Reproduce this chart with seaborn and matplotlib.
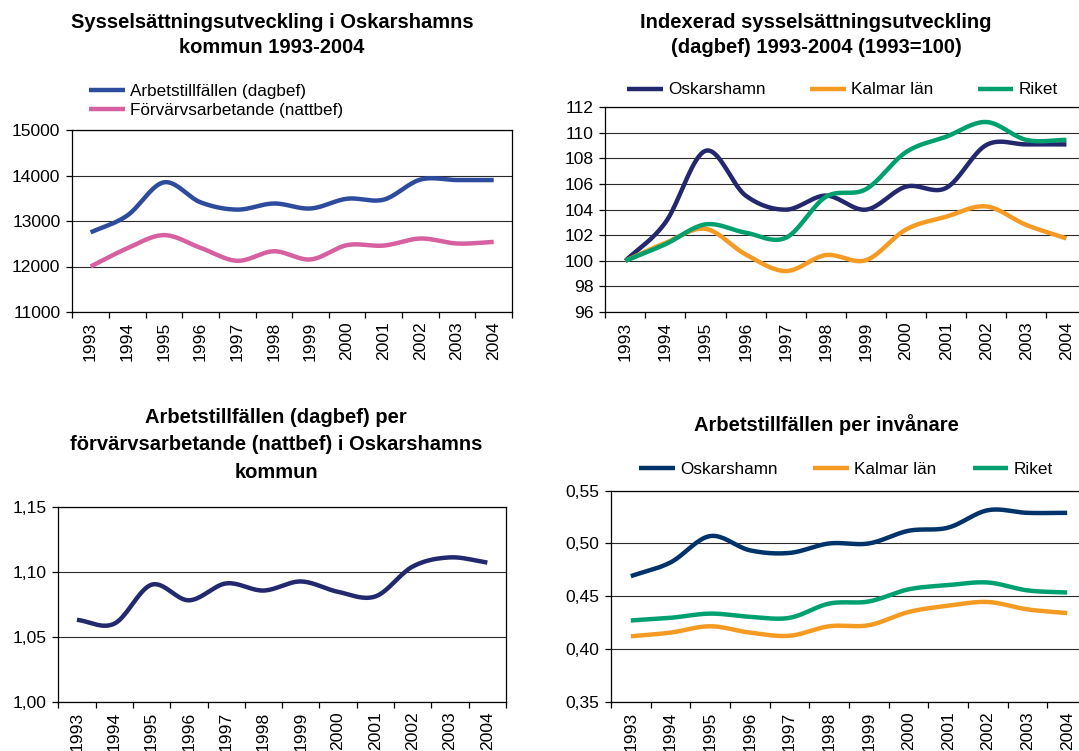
import numpy as np
import matplotlib
matplotlib.use("Agg")
import matplotlib.pyplot as plt
import seaborn as sns

# ---------------- data ----------------
years = ["1993", "1994", "1995", "1996", "1997", "1998",
         "1999", "2000", "2001", "2002", "2003", "2004"]

# top-left: Sysselsättningsutveckling
arbetstillfallen = [12750, 13120, 13850, 13410, 13250, 13385,
                    13275, 13490, 13470, 13910, 13900, 13900]
forvarvsarbetande = [12000, 12400, 12690, 12410, 12125, 12335,
                     12155, 12470, 12460, 12615, 12505, 12540]

# top-right: index 1993=100
index_oskarshamn = [100, 103.0, 108.6, 105.1, 104.0, 105.1,
                    104.0, 105.8, 105.7, 109.05, 109.1, 109.1]
index_kalmar = [100, 101.4, 102.5, 100.5, 99.2, 100.45,
                100.05, 102.45, 103.45, 104.25, 102.8, 101.75]
index_riket = [100, 101.3, 102.85, 102.2, 101.8, 105.0,
               105.6, 108.5, 109.7, 110.85, 109.45, 109.45]

# bottom-left: ratio
ratio = [1.063, 1.060, 1.090, 1.078, 1.091, 1.0855,
         1.0925, 1.0845, 1.081, 1.104, 1.111, 1.107]

# bottom-right: arbetstillfällen per invånare
inv_oskarshamn = [0.469, 0.482, 0.507, 0.4935, 0.491, 0.500,
                  0.500, 0.512, 0.515, 0.5315, 0.529, 0.529]
inv_kalmar = [0.412, 0.4155, 0.4215, 0.4155, 0.4125, 0.4215,
              0.4225, 0.435, 0.441, 0.4445, 0.4375, 0.434]
inv_riket = [0.427, 0.4295, 0.4335, 0.4305, 0.4295, 0.443,
             0.445, 0.4565, 0.4605, 0.463, 0.4555, 0.4535]

yt_tl = [11000, 12000, 13000, 14000, 15000]
yl_tl = ["11000", "12000", "13000", "14000", "15000"]
yt_tr = [96, 98, 100, 102, 104, 106, 108, 110, 112]
yl_tr = ["96", "98", "100", "102", "104", "106", "108", "110", "112"]
yt_bl = [1.00, 1.05, 1.10, 1.15]
yl_bl = ["1,00", "1,05", "1,10", "1,15"]
yt_br = [0.35, 0.40, 0.45, 0.50, 0.55]
yl_br = ["0,35", "0,40", "0,45", "0,50", "0,55"]

# ---------------- style ----------------
sns.set_theme(style="white")
plt.rcParams["font.family"] = ["Liberation Sans", "DejaVu Sans"]
plt.rcParams["text.color"] = "black"

W, H = 1079, 751
fig = plt.figure(figsize=(W / 100, H / 100), dpi=100)

TICK_FS = 12.6
LEG_FS = 12.3
TITLE_FS = 14.5


def rect(l, t, r, b):
    return [l / W, 1 - b / H, (r - l) / W, (b - t) / H]


def smooth(vals, n=20):
    """Smoothed (Excel-like) rendering of a yearly series on category positions."""
    p = np.asarray(vals, float)
    m = np.empty_like(p)
    m[1:-1] = (p[2:] - p[:-2]) / 2
    m[0] = p[1] - p[0]
    m[-1] = p[-1] - p[-2]
    t = np.linspace(0, 1, n, endpoint=False)
    h00 = 2 * t**3 - 3 * t**2 + 1
    h10 = t**3 - 2 * t**2 + t
    h01 = -2 * t**3 + 3 * t**2
    h11 = t**3 - t**2
    xs, ys = [], []
    for i in range(len(p) - 1):
        xs.append(i + t)
        ys.append(h00 * p[i] + h10 * m[i] + h01 * p[i + 1] + h11 * m[i + 1])
    xs.append([len(p) - 1])
    ys.append([p[-1]])
    return np.concatenate(xs), np.concatenate(ys)


def draw(ax, vals, color, label):
    xs, ys = smooth(vals)
    sns.lineplot(x=xs, y=ys, ax=ax, color=color, lw=3.2, sort=False,
                 estimator=None, label=label, legend=False,
                 solid_capstyle="butt", solid_joinstyle="round")


def setup(ax, ylim, yticks, ylabels):
    ax.set_xlim(-0.5, 11.5)
    ax.set_ylim(*ylim)
    ax.set_yticks(yticks, labels=ylabels)
    ax.set_xticks(np.arange(-0.5, 12, 1), labels=[""] * 13)
    ax.set_xticks(range(12), labels=years, minor=True)
    ax.tick_params(axis="x", which="major", bottom=True, length=4,
                   width=0.9, color="black", direction="out")
    ax.tick_params(axis="x", which="minor", bottom=True, length=0, pad=7,
                   labelsize=TICK_FS, labelrotation=90, labelcolor="black")
    ax.tick_params(axis="y", which="major", left=True, length=4.5, width=0.9,
                   color="black", direction="out", pad=4, labelsize=TICK_FS,
                   labelcolor="black")
    ax.set_axisbelow(True)
    ax.grid(axis="y", color="#2a2a2a", lw=0.8)
    ax.grid(axis="x", visible=False)
    for s in ax.spines.values():
        s.set_color("black")
        s.set_linewidth(0.9)
    ax.set_xlabel("")
    ax.set_ylabel("")


def legend(ax, x, y, ncol, colsp):
    handles = ax.get_lines()
    labels = [h.get_label() for h in handles]
    ax.legend(handles, labels, loc="center left",
              bbox_to_anchor=(x / W, 1 - y / H), bbox_transform=fig.transFigure,
              ncol=ncol, frameon=False, fontsize=LEG_FS, borderpad=0,
              borderaxespad=0, handlelength=2.1, handletextpad=0.3,
              labelspacing=0.25, columnspacing=colsp, labelcolor="black")


# ---------------- top-left ----------------
ax1 = fig.add_axes(rect(72.3, 130, 512, 312))
draw(ax1, arbetstillfallen, "#2E4C9E", "Arbetstillfällen (dagbef)")
draw(ax1, forvarvsarbetande, "#D660A0", "Förvärvsarbetande (nattbef)")
setup(ax1, (11000, 15000), yt_tl, yl_tl)
legend(ax1, 89, 101, 1, 1.0)
fig.text(272 / W, 1 - 35 / H,
         "Sysselsättningsutveckling i Oskarshamns\nkommun 1993-2004",
         ha="center", va="center", fontsize=TITLE_FS, fontweight="bold",
         linespacing=1.45)

# ---------------- top-right ----------------
ax2 = fig.add_axes(rect(605.3, 107.3, 1086.5, 312))
draw(ax2, index_oskarshamn, "#23286E", "Oskarshamn")
draw(ax2, index_kalmar, "#F59B23", "Kalmar län")
draw(ax2, index_riket, "#00A06E", "Riket")
setup(ax2, (96, 112), yt_tr, yl_tr)
legend(ax2, 627, 90, 3, 2.6)
fig.text(816 / W, 1 - 35 / H,
         "Indexerad sysselsättningsutveckling\n(dagbef) 1993-2004 (1993=100)",
         ha="center", va="center", fontsize=TITLE_FS, fontweight="bold",
         linespacing=1.45)

# ---------------- bottom-left ----------------
ax3 = fig.add_axes(rect(58.3, 506.7, 506, 701.7))
draw(ax3, ratio, "#23296F", "Kvot")
setup(ax3, (1.00, 1.15), yt_bl, yl_bl)
fig.text(276 / W, 1 - 445 / H,
         "Arbetstillfällen (dagbef) per\nförvärvsarbetande (nattbef) i Oskarshamns\nkommun",
         ha="center", va="center", fontsize=TITLE_FS, fontweight="bold",
         linespacing=1.55)

# ---------------- bottom-right ----------------
ax4 = fig.add_axes(rect(611, 490.7, 1087, 701.7))
draw(ax4, inv_oskarshamn, "#003369", "Oskarshamn")
draw(ax4, inv_kalmar, "#F59B23", "Kalmar län")
draw(ax4, inv_riket, "#00A070", "Riket")
setup(ax4, (0.35, 0.55), yt_br, yl_br)
legend(ax4, 639, 469, 3, 2.1)
fig.text(826 / W, 1 - 425 / H, "Arbetstillfällen per invånare",
         ha="center", va="center", fontsize=TITLE_FS, fontweight="bold")

fig.savefig("out.png", dpi=100, facecolor="white")
